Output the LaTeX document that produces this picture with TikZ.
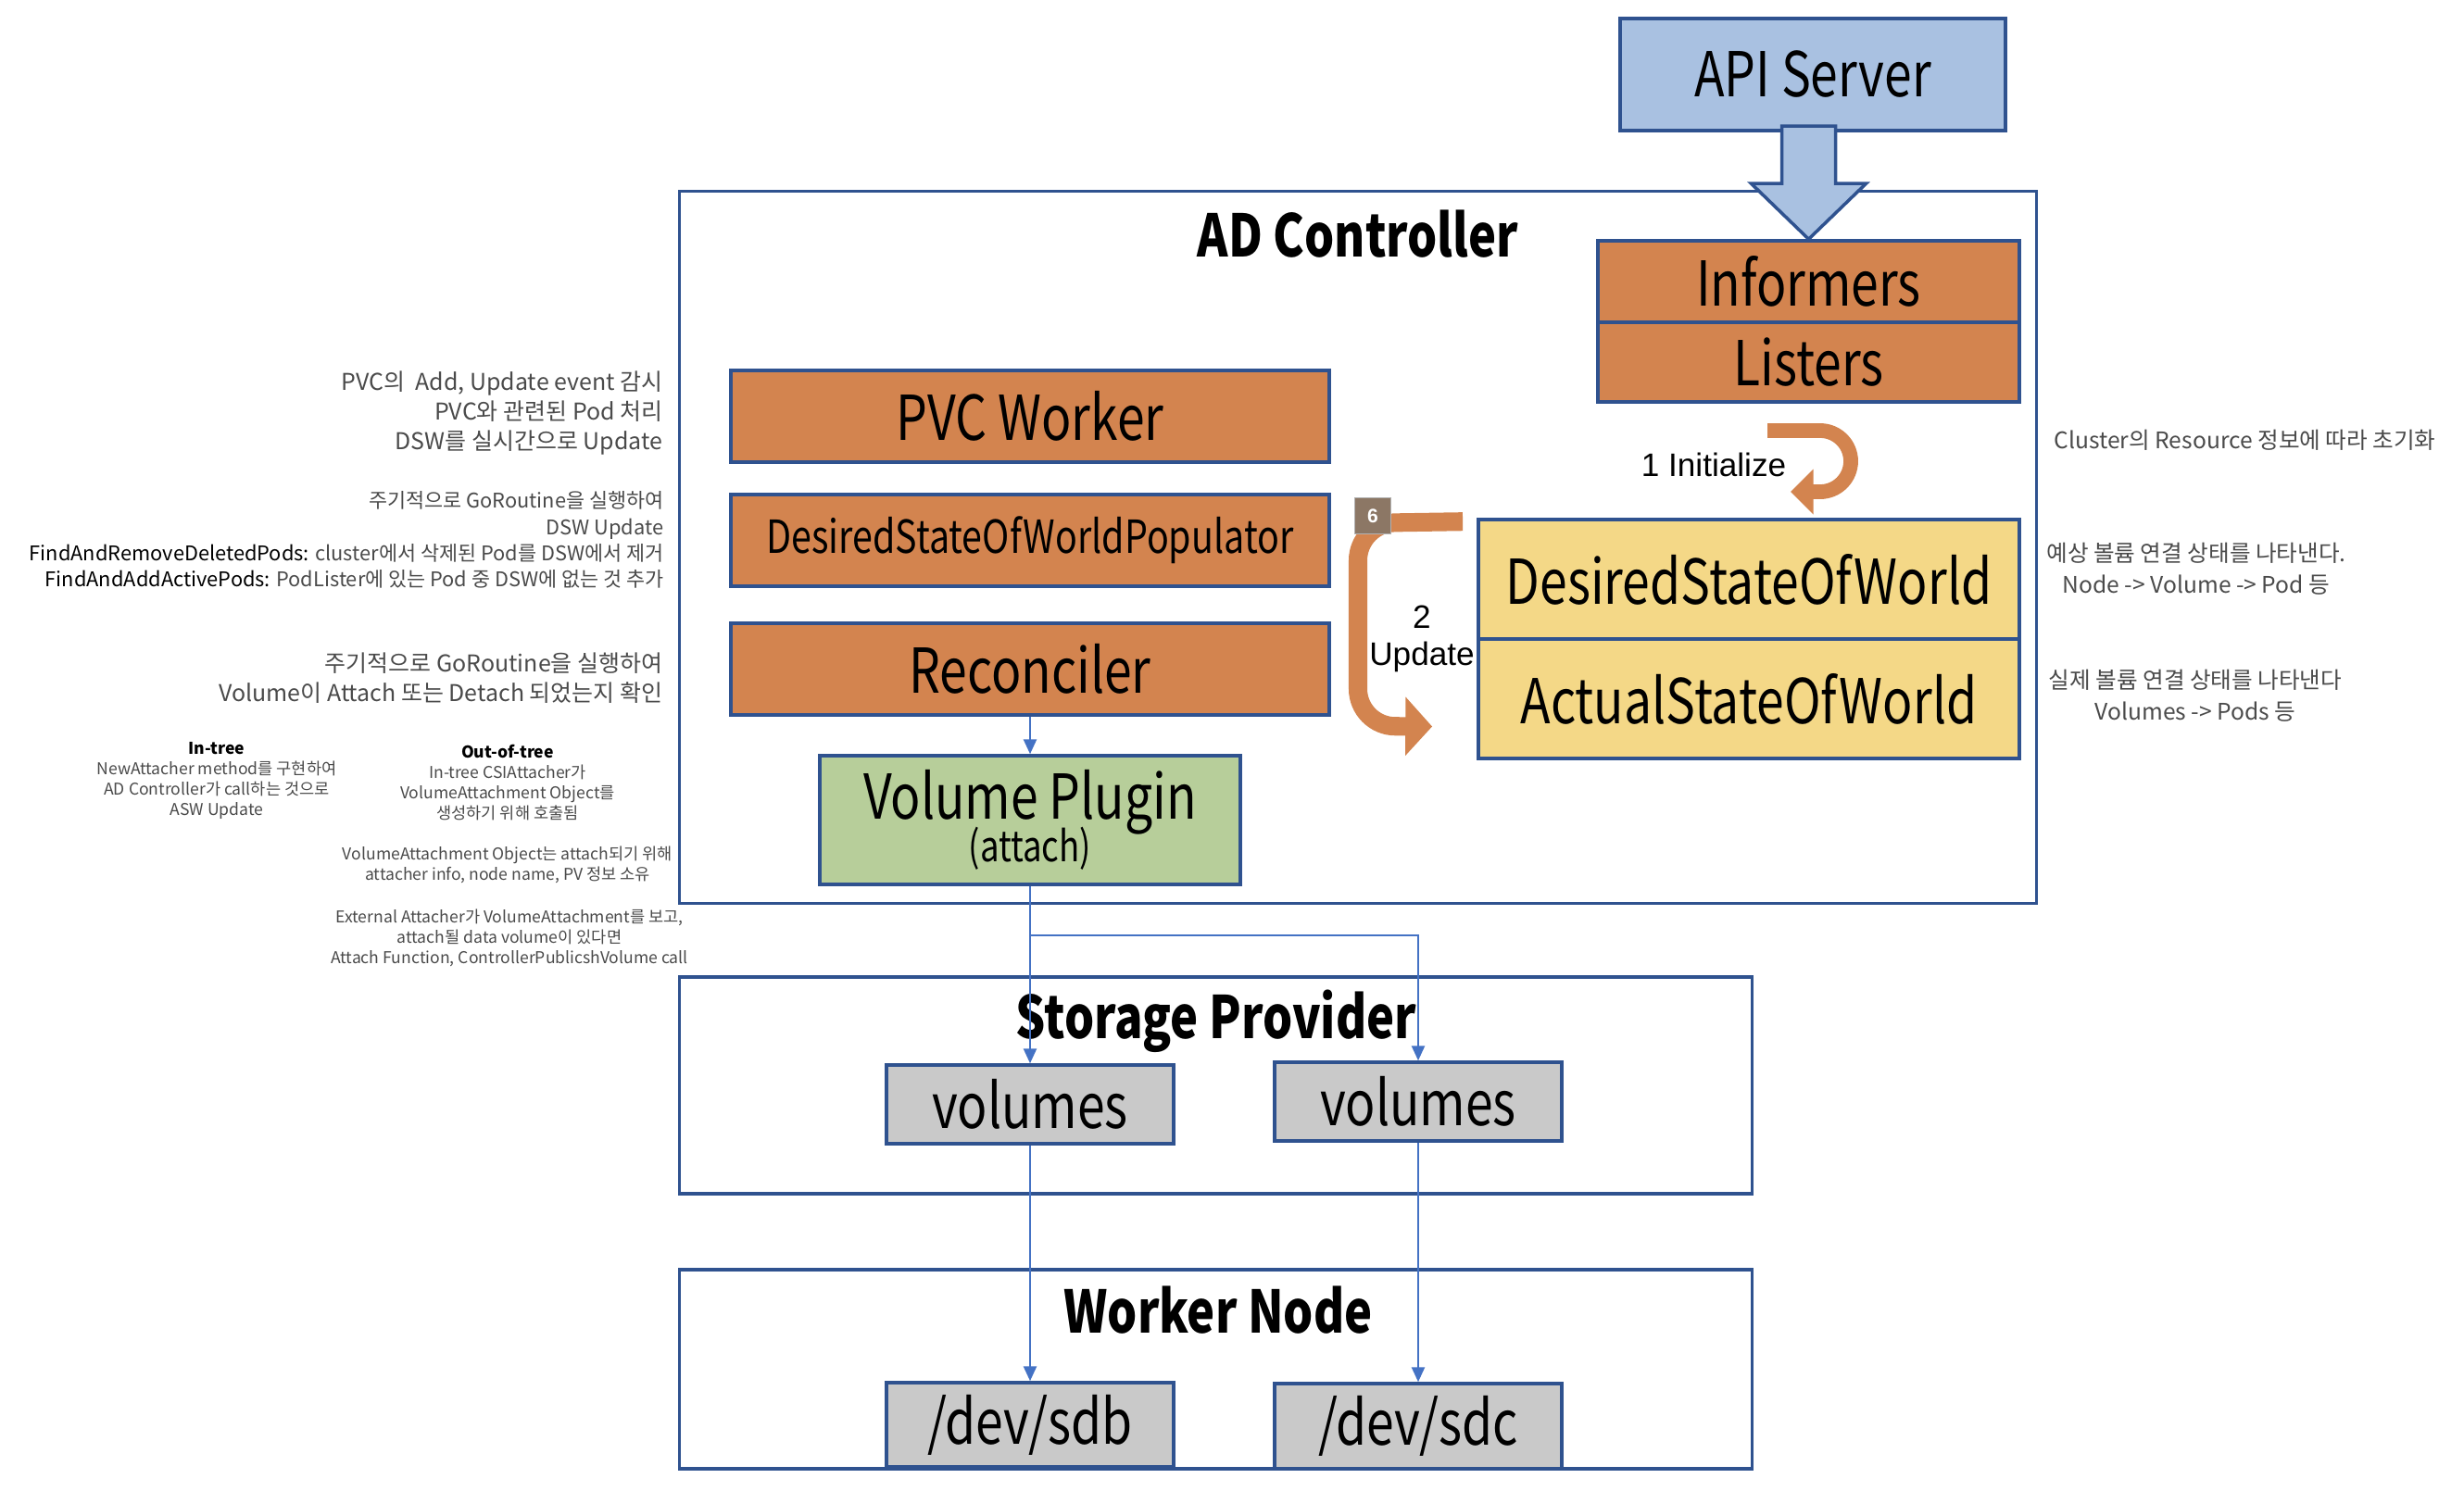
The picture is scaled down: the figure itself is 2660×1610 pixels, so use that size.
\documentclass[tikz,border=0pt]{standalone}
\usepackage{fontspec}
\newfontfamily\boxfont[FakeStretch=0.8]{Noto Sans CJK KR}
\newfontfamily\notefont{Noto Sans CJK KR}
\newfontfamily\arrowfont{Liberation Sans}
\usetikzlibrary{arrows.meta, calc, positioning}

\definecolor{edgeblue}{HTML}{2F528F}
\definecolor{apiblue}{HTML}{A9C1E1}
\definecolor{workerorange}{HTML}{D3844F}
\definecolor{stateyellow}{HTML}{F4D887}
\definecolor{plugingreen}{HTML}{B7CE9A}
\definecolor{volgray}{HTML}{C9C9C9}
\definecolor{linkblue}{HTML}{4472C4}
\definecolor{notegray}{HTML}{4A4A4A}
\definecolor{badgebrown}{HTML}{8C7765}

\tikzset{
  box/.style={draw=edgeblue, line width=1pt, inner sep=0pt, font=\boxfont\fontsize{19}{22}\selectfont},
  orangebox/.style={box, fill=workerorange},
  yellowbox/.style={box, fill=stateyellow},
  bluebox/.style={box, fill=apiblue},
  greenbox/.style={box, fill=plugingreen},
  greybox/.style={box, fill=volgray},
  frame/.style={draw=edgeblue, line width=0.9pt, inner sep=0pt},
  frametitle/.style={font=\boxfont\bfseries\fontsize{18}{20}\selectfont},
  link/.style={draw=linkblue, line width=0.6pt, -{Triangle[width=4pt,length=4.5pt]}},
  note/.style={font=\notefont\fontsize{7.1}{9.1}\selectfont, text=notegray, inner sep=0pt},
  smallnote/.style={font=\notefont\fontsize{6.2}{8}\selectfont, text=notegray, inner sep=0pt},
  tinynote/.style={font=\notefont\fontsize{5}{6.3}\selectfont, text=notegray, align=center, inner sep=0pt},
  rnote/.style={font=\notefont\fontsize{7}{9.7}\selectfont, text=notegray, align=center, inner sep=0pt},
  steplabel/.style={font=\arrowfont\fontsize{10}{11.4}\selectfont, align=center, inner sep=0pt},
  badge/.style={fill=badgebrown, draw=gray!60, line width=0.3pt, minimum size=0.39cm, inner sep=0pt,
    text=white, font=\arrowfont\bfseries\fontsize{6}{7}\selectfont}
}

\begin{document}
\begin{tikzpicture}[x=0.01cm, y=-0.01cm]
\useasboundingbox (0,0) rectangle (2660,1610);

% frames
\node[frame, minimum width=14.64cm, minimum height=7.68cm] (adctrl) at (1466,591) {};
\node[frame, minimum width=11.57cm, minimum height=2.34cm] (storage) at (1312.5,1172) {};
\node[frame, minimum width=11.57cm, minimum height=2.15cm] (worker) at (1312.5,1478.5) {};
\node[frametitle] (adtitle) at (1466,253) {AD Controller};
\node[frametitle] (sptitle) at (1313,1103) {Storage Provider};
\node[frametitle] (wntitle) at (1315,1415) {Worker Node};

% API server and informers
\node[bluebox, minimum width=4.16cm, minimum height=1.21cm] (api) at (1957,80.5) {API Server};
\node[orangebox, minimum width=4.55cm, minimum height=0.88cm] (informers) at (1952.5,304) {Informers};
\node[orangebox, minimum width=4.55cm, minimum height=0.86cm] (listers) at (1952.5,391) {Listers};
\draw[edgeblue, fill=apiblue, line width=1pt]
  ($(informers.north)+(-29,-122)$) -- ($(informers.north)+(29,-122)$) -- ($(informers.north)+(29,-60)$)
  -- ($(informers.north)+(62,-60)$) -- (informers.north) -- ($(informers.north)+(-62,-60)$)
  -- ($(informers.north)+(-29,-60)$) -- cycle;

% workers
\node[orangebox, minimum width=6.46cm, minimum height=0.99cm] (pvc) at (1112,449.5) {PVC Worker};
\node[orangebox, minimum width=6.46cm, minimum height=0.99cm, font=\boxfont\fontsize{14}{16}\selectfont] (dswp) at (1112,583.5) {DesiredStateOfWorldPopulator};
\node[orangebox, minimum width=6.46cm, minimum height=0.99cm] (reconciler) at (1112,722.5) {Reconciler};
\node[greenbox, minimum width=4.54cm, minimum height=1.39cm, align=center] (plugin) at (1112,885.5)
  {Volume Plugin\\[-9pt]{\fontsize{13}{15}\selectfont(attach)}};

% state caches
\node[yellowbox, minimum width=5.84cm, minimum height=1.29cm] (dsw) at (1888,625.5) {DesiredStateOfWorld};
\node[yellowbox, minimum width=5.84cm, minimum height=1.29cm] (asw) at (1888,754.5) {ActualStateOfWorld};

% volumes and devices
\node[greybox, minimum width=3.10cm, minimum height=0.85cm] (vol1) at (1112,1192.5) {volumes};
\node[greybox, minimum width=3.10cm, minimum height=0.85cm] (vol2) at (1531,1189.5) {volumes};
\node[greybox, minimum width=3.10cm, minimum height=0.91cm] (sdb) at (1112,1538.5) {/dev/sdb};
\node[greybox, minimum width=3.10cm, minimum height=0.92cm] (sdc) at (1531,1540) {/dev/sdc};

% connectors
\draw[link] (reconciler.south) -- (plugin.north);
\draw[link] (plugin.south) -- (vol1.north);
\path (plugin.south) ++(0,53) coordinate (split);
\draw[link] (split) -| (vol2.north);
\draw[link] (vol1.south) -- (sdb.north);
\draw[link] (vol2.south) -- (sdc.north);

% 1 Initialize
\draw[workerorange, line width=4.5pt, -{Triangle[width=13.5pt,length=7pt]}]
  (1908,465) -- (1965,465) arc[start angle=90, end angle=-90, radius=0.33cm] -- (1933,531);
\node[steplabel] (initlabel) at (1850,502) {1 Initialize};

% 2 Update
\draw[workerorange, line width=5.7pt, rounded corners=0.4cm, -{Triangle[width=17.6pt,length=8.2pt]}]
  ($(dsw.north west)+(-15,4)$) -- (1466,565) -- (1466,784) -- ($(asw.west)+(-48,30)$);
\node[badge] (six) at (1482,557) {6};
\node[steplabel] (updlabel) at (1535,690) {2\\Update};

% notes on the left
\node[note, anchor=east, align=right] (pvcnote) at (716,446)
  {PVC의\ \ Add, Update event 감시\\PVC와 관련된 Pod 처리\\DSW를 실시간으로 Update};
\node[smallnote, anchor=east, align=right] (dswpnote) at (717,583)
  {주기적으로 GoRoutine을 실행하여\\DSW Update\\{\color{black}FindAndRemoveDeletedPods:} cluster에서 삭제된 Pod를 DSW에서 제거\\{\color{black}FindAndAddActivePods:} PodLister에 있는 Pod 중 DSW에 없는 것 추가};
\node[note, anchor=east, align=right] (recnote) at (716,732)
  {주기적으로 GoRoutine을 실행하여\\Volume이 Attach 또는 Detach 되었는지 확인};
\node[tinynote] (intree) at (234,843)
  {{\color{black}\bfseries In-tree}\\NewAttacher method를 구현하여\\AD Controller가 call하는 것으로\\ASW Update};
\node[tinynote] (outtree) at (548,845)
  {{\color{black}\bfseries Out-of-tree}\\In-tree CSIAttacher가\\VolumeAttachment Object를\\생성하기 위해 호출됨};
\node[tinynote] (vanote) at (548,934)
  {VolumeAttachment Object는 attach되기 위해\\attacher info, node name, PV 정보 소유};
\node[tinynote] (extnote) at (550,1013)
  {External Attacher가 VolumeAttachment를 보고,\\attach될 data volume이 있다면\\Attach Function, ControllerPublicshVolume call};

% notes on the right
\node[rnote, anchor=west] (initnote) at (2217,475) {Cluster의 Resource 정보에 따라 초기화};
\node[rnote] (dswnote) at (2371,614) {예상 볼륨 연결 상태를 나타낸다.\\Node -> Volume -> Pod 등};
\node[rnote] (aswnote) at (2370,751) {실제 볼륨 연결 상태를 나타낸다\\Volumes -> Pods 등};
\end{tikzpicture}
\end{document}
